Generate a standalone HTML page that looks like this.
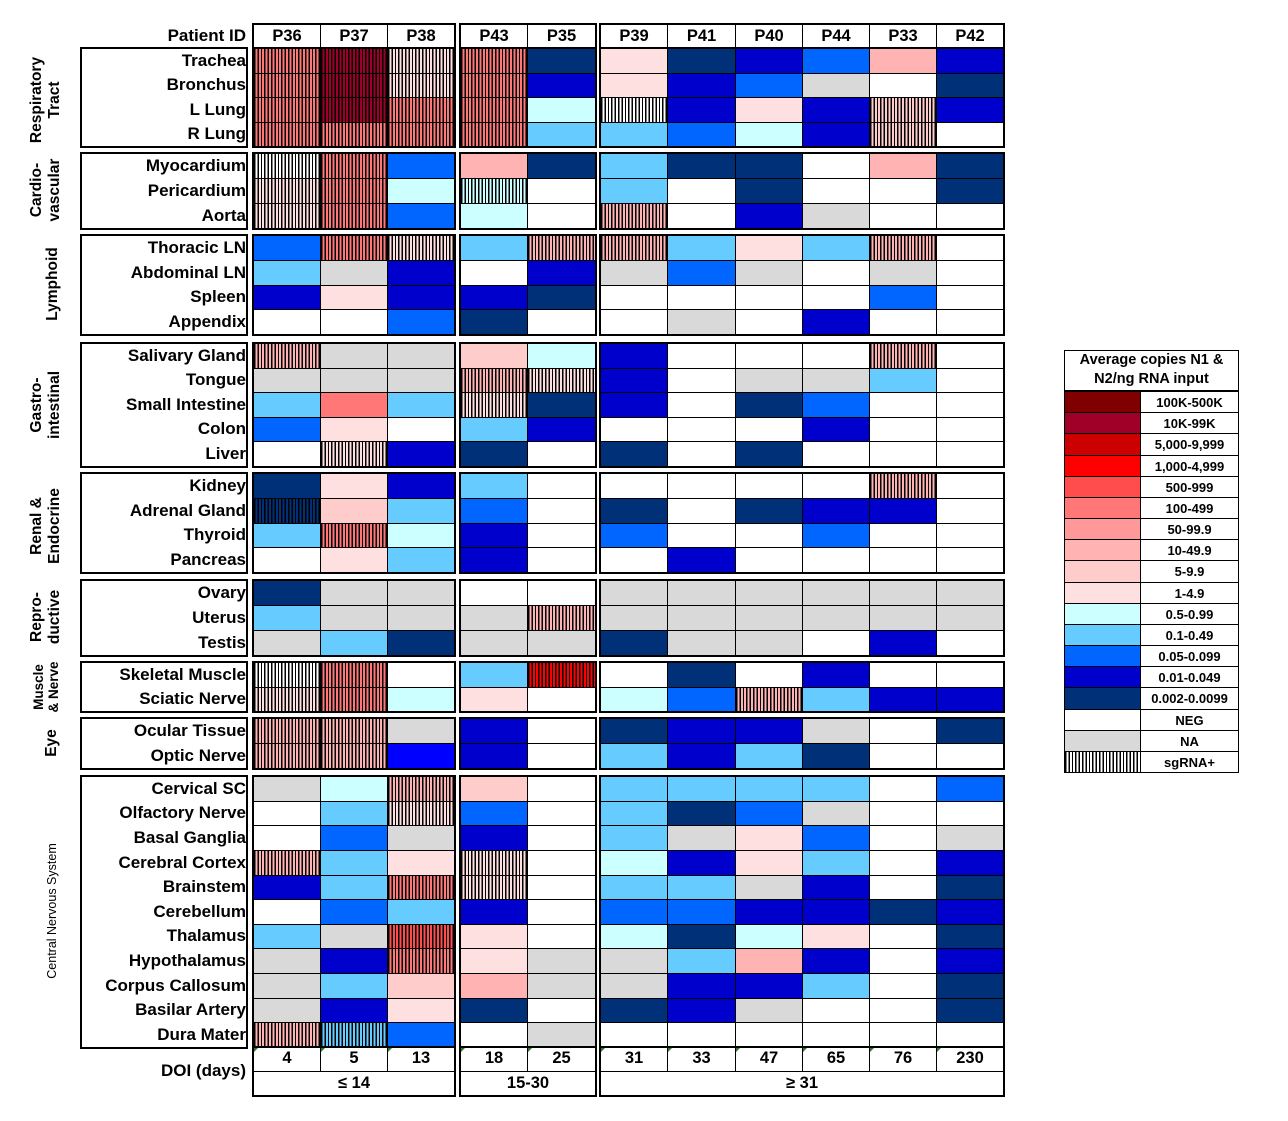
<!DOCTYPE html>
<html><head><meta charset="utf-8"><style>
body{margin:0;width:1288px;height:1121px;background:#fff;position:relative;overflow:hidden;font-family:"Liberation Sans",Arial,sans-serif;font-weight:bold;color:#000}
div{box-sizing:border-box}
.a{position:absolute}
.lbl{position:absolute;right:1042px;font-size:17px;text-align:right;white-space:nowrap;line-height:24px}
.sec{position:absolute;transform:translate(-50%,-50%) rotate(-90deg);font-size:15.5px;text-align:center;line-height:18px;white-space:nowrap}
.lb{position:absolute;border:2px solid #000;left:80px;width:168px}
</style></head><body>
<div id="g"></div>
<div class="lbl" style="top:24px">Patient ID</div>
<div class="lbl" style="top:1059px">DOI (days)</div>
<div id="labels"></div>
<div class="sec" style="left:46px;top:100px">Respiratory<br>Tract</div>
<div class="sec" style="left:46px;top:190px">Cardio-<br>vascular</div>
<div class="sec" style="left:53px;top:284px">Lymphoid</div>
<div class="sec" style="left:46px;top:405px">Gastro-<br>intestinal</div>
<div class="sec" style="left:46px;top:526px">Renal &amp;<br>Endocrine</div>
<div class="sec" style="left:46px;top:617px">Repro-<br>ductive</div>
<div class="sec" style="left:46px;top:687px;font-size:13.5px;line-height:15px">Muscle<br>&amp; Nerve</div>
<div class="sec" style="left:52px;top:743px">Eye</div>
<div class="sec" style="left:52px;top:911px;font-size:12.5px;font-weight:normal">Central Nervous System</div>

<div class="a" style="left:1064px;top:350px;width:175px;height:423px;border:1px solid #000"></div>
<div class="a" style="left:1064px;top:350px;width:175px;height:41px;font-size:14.5px;text-align:center;line-height:19px;padding-top:1px;border-bottom:1px solid #000">Average copies N1 &amp;<br>N2/ng RNA input</div>
<div id="leg"></div>
<script>
var C={W:'#fff',N:'#d9d9d9',a:'#ccffff',b:'#66ccff',c:'#0066ff',d:'#0000cc',e:'#003078',B:'#0000ff',
p1:'#ffe0e0',p5:'#ffcccc',p10:'#ffb3b3',p50:'#ff9999',p100:'#ff7777',p500:'#ff4d4d',r1k:'#ff0000',r5k:'#cc0000',r10k:'#a00028',r100k:'#800000'};
var secs=[
[48,146,[['Trachea','S:p100 S:r10k S:p1 S:p100 e p1 e d c p10 d'],['Bronchus','S:p100 S:r10k S:p1 S:p100 d p1 d c N W e'],['L Lung','S:p100 S:r10k S:p100 S:p100 a S:W d p1 d S:p5 d'],['R Lung','S:p100 S:p100 S:p100 S:p100 b b c a d S:p5 W']]],
[153,228,[['Myocardium','S:W S:p100 c p10 e b e e W p10 e'],['Pericardium','S:p1 S:p100 a S:a W b W e W W e'],['Aorta','S:p1 S:p100 c a W S:p10 W d N W W']]],
[235,334,[['Thoracic LN','c S:p100 S:p1 b S:p10 S:p10 b p1 b S:p10 W'],['Abdominal LN','b N d W d N c N W N W'],['Spleen','d p1 d d e W W W W c W'],['Appendix','W W c e W W N W d W W']]],
[343,466,[['Salivary Gland','S:p10 N N p5 a d W W W S:p10 W'],['Tongue','N N N S:p10 S:p1 d W N N b W'],['Small Intestine','b p100 b S:p1 e d W e c W W'],['Colon','c p1 W b d W W W d W W'],['Liver','W S:p1 d e W e W e W W W']]],
[473,572,[['Kidney','e p1 d b W W W W W S:p10 W'],['Adrenal Gland','S:e p5 b c W e W e d d W'],['Thyroid','b S:p100 a d W c W W c W W'],['Pancreas','W p1 b d W W d W W W W']]],
[580,655,[['Ovary','e N N W W N N N N N N'],['Uterus','b N N N S:p10 N N N N N N'],['Testis','N b e N N e N N W d W']]],
[662,711,[['Skeletal Muscle','S:W S:p100 W b S:r1k W e W d W W'],['Sciatic Nerve','S:p1 S:p100 a p1 W a c S:p10 b d d']]],
[718,768,[['Ocular Tissue','S:p10 S:p10 N d W e d d N W e'],['Optic Nerve','S:p10 S:p10 B d W b d b e W W']]],
[776,1047,[['Cervical SC','N a S:p10 p5 W b b b b W c'],['Olfactory Nerve','W b S:p1 c W b e c N W W'],['Basal Ganglia','W c N d W b N p1 c W N'],['Cerebral Cortex','S:p10 b p1 S:p1 W a d p1 b W d'],['Brainstem','d b S:p100 S:p1 W b b N d W e'],['Cerebellum','W c b d W c c d d e d'],['Thalamus','b N S:p500 p1 W a e a p1 W e'],['Hypothalamus','N d S:p100 p1 N N b p10 d W d'],['Corpus Callosum','N b p5 p10 N N d d b W e'],['Basilar Artery','N d p1 e W e d N W W e'],['Dura Mater','S:p10 S:b c W N W W W W W W']]]
];
var cols=[[253,320],[320,387],[387,454],[460,527],[527,595],[600,667],[667,735],[735,802],[802,869],[869,936],[936,1003]];
var groups=[[253,454],[460,595],[600,1003]];
var h='';
function bg(code){var s=code.indexOf('S:')==0;var k=s?code.slice(2):code;var col=C[k];
 return s?'background:repeating-linear-gradient(90deg,#000 0 1.4px,transparent 1.4px 3.4px),'+col:'background:'+col;}
function cell(x1,y1,x2,y2,style,txt){h+='<div class="a" style="left:'+x1+'px;top:'+y1+'px;width:'+(x2-x1+1)+'px;height:'+(y2-y1+1)+'px;border:1px solid #000;'+style+'">'+(txt||'')+'</div>';}
function box(x1,y1,x2,y2){h+='<div class="a" style="left:'+(x1-1)+'px;top:'+(y1-1)+'px;width:'+(x2-x1+3)+'px;height:'+(y2-y1+3)+'px;border:2px solid #000"></div>';}
var L='';
var ids=['P36','P37','P38','P43','P35','P39','P41','P40','P44','P33','P42'];
cols.forEach(function(c,i){cell(c[0],24,c[1],48,'background:#fff;font-size:16.5px;text-align:center;line-height:22px',ids[i]);});
groups.forEach(function(g){box(g[0],24,g[1],48);});
secs.forEach(function(s){var n=s[2].length,rh=(s[1]-s[0])/n;
 s[2].forEach(function(r,j){var y1=Math.round(s[0]+j*rh),y2=Math.round(s[0]+(j+1)*rh);var v=r[1].split(' ');
  cols.forEach(function(c,i){cell(c[0],y1,c[1],y2,bg(v[i]));});
  L+='<div class="lbl" style="top:'+(y1)+'px;height:'+(y2-y1)+'px;line-height:'+(y2-y1)+'px">'+r[0]+'</div>';
 });
 groups.forEach(function(g){box(g[0],s[0],g[1],s[1]);});
 L+='<div class="lb" style="top:'+(s[0]-1)+'px;height:'+(s[1]-s[0]+3)+'px"></div>';
});
var doi=['4','5','13','18','25','31','33','47','65','76','230'];
cols.forEach(function(c,i){cell(c[0],1047,c[1],1071,'background:#fff;font-size:16.5px;text-align:center;line-height:22px;border-bottom:none;border-top:none',doi[i]+'<div class="a" style="left:0;top:0;width:0;height:0;border-top:5px solid #2a7a2a;border-right:5px solid transparent"></div>');});
var gl=['≤ 14','15-30','≥ 31'];
groups.forEach(function(g,i){cell(g[0],1071,g[1],1095,'background:#fff;font-size:16.5px;text-align:center;line-height:22px',gl[i]);box(g[0],1047,g[1],1095);});
document.getElementById('g').innerHTML=h;
document.getElementById('labels').innerHTML=L;
var lg=[['r100k','100K-500K'],['r10k','10K-99K'],['r5k','5,000-9,999'],['r1k','1,000-4,999'],['p500','500-999'],['p100','100-499'],['p50','50-99.9'],['p10','10-49.9'],['p5','5-9.9'],['p1','1-4.9'],['a','0.5-0.99'],['b','0.1-0.49'],['c','0.05-0.099'],['d','0.01-0.049'],['e','0.002-0.0099'],['W','NEG'],['N','NA'],['S:W','sgRNA+']];
var q='';var rh=(772-391)/18;
lg.forEach(function(r,i){var y=Math.round(391+i*rh),y2=Math.round(391+(i+1)*rh);
 q+='<div class="a" style="left:1064px;top:'+y+'px;width:77px;height:'+(y2-y+1)+'px;border:1px solid #000;'+bg(r[0])+'"></div>';
 q+='<div class="a" style="left:1140px;top:'+y+'px;width:99px;height:'+(y2-y+1)+'px;border:1px solid #000;font-size:13px;text-align:center;line-height:'+(y2-y)+'px">'+r[1]+'</div>';});
document.getElementById('leg').innerHTML=q;
</script>
</body></html>
